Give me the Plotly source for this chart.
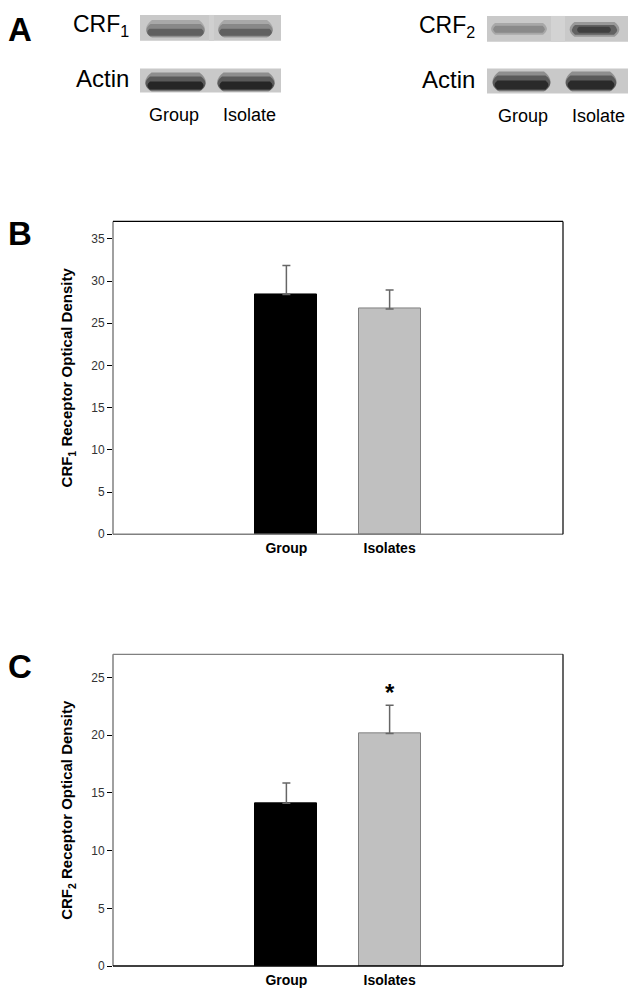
import plotly.graph_objects as go

# ---------------- data ----------------
categories = ["Group", "Isolates"]
crf1_means = [28.4, 26.7]
crf1_sem = [3.45, 2.25]
crf2_means = [14.1, 20.15]
crf2_sem = [1.75, 2.45]
bar_colors = ["#000000", "#c0c0c0"]
bar_lines = ["#000000", "#808080"]
crf1_ticks = [0, 5, 10, 15, 20, 25, 30, 35]
crf2_ticks = [0, 5, 10, 15, 20, 25]
blot_lanes = ["Group", "Isolate"]

# page has an 8px body margin, so the figure is drawn 8px in from the edges;
# keep the page a little shorter than the window so nothing overflows
OFF = 8
W, H = 641 - 2 * OFF, 1007 - 2 * OFF - 10
FONT = "Arial, Liberation Sans, sans-serif"


def px(x):
    return (x - OFF) / W


def py(y):
    return 1 - (y - OFF) / H


fig = go.Figure()

xpos = [0, 1]
fig.add_trace(go.Bar(
    x=xpos, y=crf1_means, width=0.6,
    marker=dict(color=bar_colors, line=dict(color=bar_lines, width=1)),
    error_y=dict(type="data", array=crf1_sem, arrayminus=[0, 0], symmetric=False,
                 color="#666666", thickness=1.5, width=4),
    xaxis="x", yaxis="y", showlegend=False))
fig.add_trace(go.Bar(
    x=xpos, y=crf2_means, width=0.6,
    marker=dict(color=bar_colors, line=dict(color=bar_lines, width=1)),
    error_y=dict(type="data", array=crf2_sem, arrayminus=[0, 0], symmetric=False,
                 color="#666666", thickness=1.5, width=4),
    xaxis="x2", yaxis="y2", showlegend=False))

xdom = [px(113), px(563)]
common_x = dict(range=[-1.68, 2.68], tickvals=xpos,
                ticktext=["<b>%s</b>" % c for c in categories],
                tickfont=dict(family=FONT, size=14, color="#000"),
                showgrid=False, zeroline=False, ticks="", showline=False,
                ticklabelstandoff=4, fixedrange=True)
common_y = dict(showgrid=False, zeroline=False, ticks="outside", ticklen=5,
                tickcolor="#000", tickwidth=1,
                tickfont=dict(family=FONT, size=12, color="#333"),
                showline=False, fixedrange=True)

fig.update_layout(
    width=W, height=H, margin=dict(l=0, r=0, t=0, b=0),
    paper_bgcolor="white", plot_bgcolor="white",
    xaxis=dict(domain=xdom, anchor="y", **common_x),
    yaxis=dict(domain=[py(538), py(223)], anchor="x", range=[0, 37.06],
               tickvals=crf1_ticks,
               title=dict(text="<b>CRF<sub>1</sub> Receptor Optical Density</b>",
                          font=dict(family=FONT, size=15, color="#000"), standoff=14),
               **common_y),
    xaxis2=dict(domain=xdom, anchor="y2", **common_x),
    yaxis2=dict(domain=[py(973), py(659)], anchor="x2", range=[0, 27.0],
                tickvals=crf2_ticks,
                title=dict(text="<b>CRF<sub>2</sub> Receptor Optical Density</b>",
                           font=dict(family=FONT, size=15, color="#000"), standoff=14),
                **common_y),
    bargap=0,
)

shapes = []


def border(xr, yr, left, bottom, top, right):
    xd, yd = xr + " domain", yr + " domain"
    shapes.append(dict(type="line", xref=xd, yref=yd, x0=0, x1=0, y0=0, y1=1,
                       line=dict(color=left, width=1.5)))
    shapes.append(dict(type="line", xref=xd, yref=yd, x0=0, x1=1, y0=0, y1=0,
                       line=dict(color=bottom, width=1.5)))
    shapes.append(dict(type="line", xref=xd, yref=yd, x0=0, x1=1, y0=1, y1=1,
                       line=dict(color=top, width=1.2)))
    shapes.append(dict(type="line", xref=xd, yref=yd, x0=1, x1=1, y0=0, y1=1,
                       line=dict(color=right, width=1.2)))


border("x", "y", "#808080", "#808080", "#000", "#000")
border("x2", "y2", "#808080", "#000", "#808080", "#000")


def rect(x0, y0, x1, y1, color, opacity=1.0):
    shapes.append(dict(type="rect", xref="paper", yref="paper",
                       x0=px(x0), x1=px(x1), y0=py(y1), y1=py(y0),
                       fillcolor=color, opacity=opacity, line=dict(width=0), layer="above"))


def band(x0, y0, x1, y1, color, opacity=1.0):
    # soft band: rounded path
    r = (y1 - y0) / 2
    path = "M %f %f L %f %f Q %f %f %f %f L %f %f Q %f %f %f %f Z" % (
        px(x0 + r), py(y0), px(x1 - r), py(y0),
        px(x1 + r * 0.3), py((y0 + y1) / 2), px(x1 - r), py(y1),
        px(x0 + r), py(y1),
        px(x0 - r * 0.3), py((y0 + y1) / 2), px(x0 + r), py(y0))
    shapes.append(dict(type="path", xref="paper", yref="paper", path=path,
                       fillcolor=color, opacity=opacity, line=dict(width=0), layer="above"))


# CRF1 blot
rect(140, 15, 281, 41, "#c9c9c9")
rect(209, 15, 214, 41, "#d0d0d0")
band(143, 20, 208, 38, "#a8a8a8")
band(144, 24, 207, 37, "#888888")
band(146, 29, 205, 36, "#606060")
band(215, 20, 276, 38, "#a8a8a8")
band(216, 24, 275, 37, "#888888")
band(218, 29, 273, 36, "#606060")
# Actin blot 1
rect(140, 69, 281, 93, "#c9c9c9")
band(142, 73, 209, 92, "#8e8e8e")
band(143, 77, 208, 91, "#5a5a5a")
band(146, 82, 205, 90, "#262626")
band(214, 73, 278, 92, "#8e8e8e")
band(215, 77, 277, 91, "#5a5a5a")
band(218, 82, 274, 90, "#262626")
# CRF2 blot
rect(487, 16, 628, 42, "#c9c9c9")
rect(551, 16, 565, 42, "#d3d3d3")
band(489, 23, 549, 35, "#a8a8a8")
band(492, 26, 546, 33, "#8a8a8a")
band(567, 22, 622, 37, "#999999")
band(570, 25, 619, 35, "#626262")
band(576, 27, 612, 33, "#404040")
# Actin blot 2
rect(487, 69, 628, 94, "#c9c9c9")
band(489, 72, 554, 92, "#8e8e8e")
band(490, 76, 553, 91, "#5a5a5a")
band(493, 81, 550, 90, "#2a2a2a")
band(562, 72, 620, 92, "#8e8e8e")
band(563, 76, 619, 91, "#5a5a5a")
band(566, 81, 616, 90, "#2a2a2a")

fig.update_layout(shapes=shapes)

ann = []


def text(x, y, s, size, bold=False, xanchor="center"):
    ann.append(dict(x=px(x), y=py(y), xref="paper", yref="paper",
                    text=("<b>%s</b>" % s) if bold else s, showarrow=False,
                    xanchor=xanchor, yanchor="middle",
                    font=dict(family=FONT, size=size, color="#000")))


text(6, 30, "A", 33, bold=True, xanchor="left")
text(6, 235, "B", 33, bold=True, xanchor="left")
text(6, 671, "C", 33, bold=True, xanchor="left")

text(131, 26, "CRF<sub>1</sub>", 23, xanchor="right")
text(131, 79, "Actin", 24, xanchor="right")
text(174, 116, blot_lanes[0], 18)
text(249, 116, blot_lanes[1], 18)

text(477, 27, "CRF<sub>2</sub>", 23, xanchor="right")
text(477, 80, "Actin", 24, xanchor="right")
text(523, 117, blot_lanes[0], 18)
text(598, 117, blot_lanes[1], 18)

# significance asterisk
ann.append(dict(x=1, y=crf2_means[1] + crf2_sem[1], xref="x2", yref="y2",
                text="<b>*</b>", showarrow=False, yanchor="bottom", yshift=-3,
                font=dict(family=FONT, size=24, color="#000")))

fig.update_layout(annotations=ann)

fig.write_html("out.html")
